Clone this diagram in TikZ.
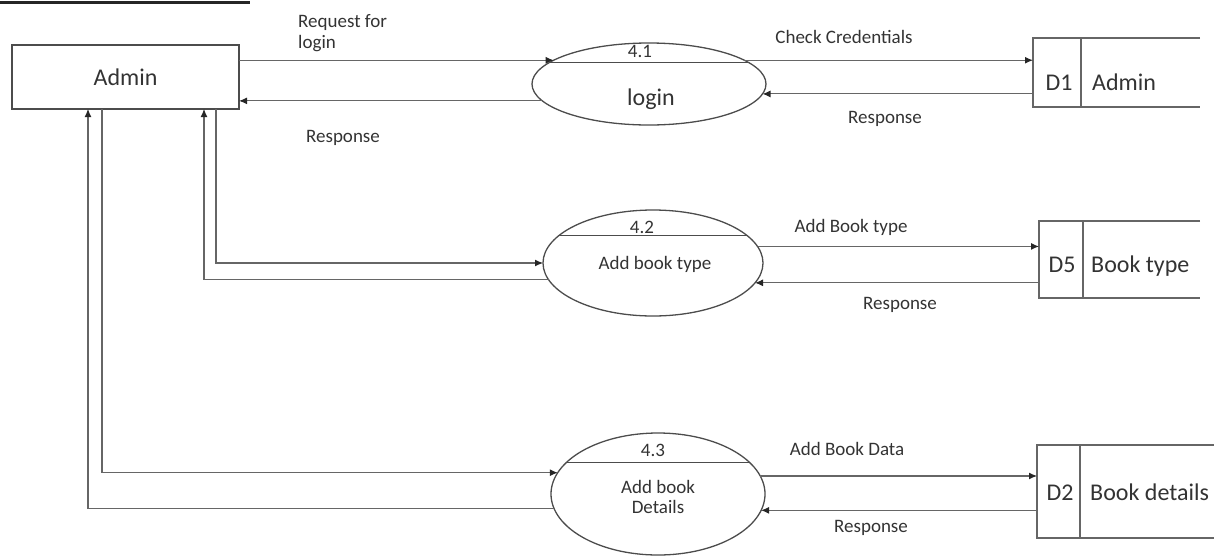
\documentclass[tikz,border=0pt]{standalone}
\usepackage{fontspec}
\setmainfont{Carlito}
\usetikzlibrary{arrows.meta,shapes.geometric}
\begin{document}
\begin{tikzpicture}[x=1pt,y=-1pt,
  flow/.style={draw=black!60,line width=1.1pt,-{Latex[length=8pt,width=7pt,color=black!85]}},
  plainline/.style={draw=black!60,line width=1.1pt},
  proc/.style={ellipse,draw=black!70,line width=1.3pt,inner sep=0pt,outer sep=0pt},
  entity/.style={rectangle,draw=black!70,line width=1.3pt,inner sep=0pt,outer sep=0pt,
    font=\fontsize{24}{28}\selectfont,text=black!80},
  storebox/.style={rectangle,draw=none,inner sep=0pt,outer sep=0pt},
  storeline/.style={draw=black!60,line width=1.1pt},
  big/.style={font=\fontsize{24}{28}\selectfont,text=black!80,inner sep=0pt,text height=16.8pt,text depth=4.8pt},
  small/.style={font=\fontsize{19}{21}\selectfont,text=black!80,inner sep=0pt,text height=13.3pt,text depth=3.8pt},
  ]
\useasboundingbox (0,0) rectangle (1214,555);

% cut-off heading underline
\draw[line width=2.5pt,black!85] (0,2.5) -- (250,2.5);

% external entity
\node[entity,minimum width=227pt,minimum height=64pt] (admin) at (125.5,77) {Admin};

% processes
\node[proc,minimum width=234pt,minimum height=82pt] (p41) at (649,84) {};
\node[proc,minimum width=220pt,minimum height=106pt] (p42) at (653,263) {};
\node[proc,minimum width=214pt,minimum height=122pt] (p43) at (658,494) {};
\draw[plainline,draw=black!70] (p41.168) -- (p41.12);
\draw[plainline,draw=black!70] (p42.164) -- (p42.16);
\draw[plainline,draw=black!70] (p43.161) -- (p43.19);
\node[small] (n41) at (640,53) {4.1};
\node[big] (t41) at (651,99) {login};
\node[small] (n42) at (642,229) {4.2};
\node[small] (t42) at (655,265) {Add book type};
\node[small] (n43) at (653,452) {4.3};
\node[small,align=center,text height=,text depth=] (t43) at (658,497) {Add book\\[-1pt]Details};

% data stores
\node[storebox,minimum width=167pt,minimum height=69pt] (d1) at (1116.5,72.5) {};
\draw[storeline] (d1.north east) -- (d1.north west) -- (d1.south west) -- (d1.south east);
\draw[storeline] ([xshift=48pt]d1.north west) -- ([xshift=48pt]d1.south west);
\node[big] (d1id) at (1059,84) {D1};
\node[big,anchor=west] (d1name) at (1092,84) {Admin};

\node[storebox,minimum width=161pt,minimum height=77pt] (d5) at (1119.5,259.5) {};
\draw[storeline] (d5.north east) -- (d5.north west) -- (d5.south west) -- (d5.south east);
\draw[storeline] ([xshift=44pt]d5.north west) -- ([xshift=44pt]d5.south west);
\node[big] (d5id) at (1062,266) {D5};
\node[big,anchor=west] (d5name) at (1091,266) {Book type};

\node[storebox,minimum width=177pt,minimum height=93pt] (d2) at (1125.5,491.5) {};
\draw[storeline] (d2.north east) -- (d2.north west) -- (d2.south west) -- (d2.south east);
\draw[storeline] ([xshift=43pt]d2.north west) -- ([xshift=43pt]d2.south west);
\node[big] (d2id) at (1060,494) {D2};
\node[big,anchor=west] (d2name) at (1090,494) {Book details};

% admin bottom attachment points
\coordinate (a88) at ([xshift=76pt]admin.south west);
\coordinate (a102) at ([xshift=90pt]admin.south west);
\coordinate (a204) at ([xshift=192pt]admin.south west);
\coordinate (a216) at ([xshift=204pt]admin.south west);

% flows: admin <-> 4.1
\draw[flow] (admin.east |- p41.166) -- (p41.166);
\draw[flow] (p41.189) -- (admin.east |- p41.189);
\node[small,align=left,anchor=north west,text height=,text depth=] (lreq) at (298,14) {Request for\\login};
\node[small] (lresp1) at (343,138) {Response};

% 4.1 <-> D1
\draw[flow] (p41.14) -- (d1.west |- p41.14);
\draw[flow] (d1.west |- p41.355) -- (p41.355);
\node[small] (lcheck) at (844,39) {Check Credentials};
\node[small] (lresp2) at (885,119) {Response};

% admin <-> 4.2
\draw[flow] (a216) |- (p42.180);
\draw[flow] (p42.189) -| (a204);

% 4.2 <-> D5
\draw[flow] (p42.9) -- (d5.west |- p42.9);
\draw[flow] (d5.west |- p42.349) -- (p42.349);
\node[small] (laddtype) at (851,228) {Add Book type};
\node[small] (lresp3) at (900,305) {Response};

% admin <-> 4.3
\draw[flow] (a102) |- (p43.168);
\draw[flow] (p43.188) -| (a88);

% 4.3 <-> D2
\draw[flow] (p43.10) -- (d2.west |- p43.10);
\draw[flow] (d2.west |- p43.351) -- (p43.351);
\node[small] (ladddata) at (847,451) {Add Book Data};
\node[small] (lresp4) at (871,528) {Response};
\end{tikzpicture}
\end{document}
